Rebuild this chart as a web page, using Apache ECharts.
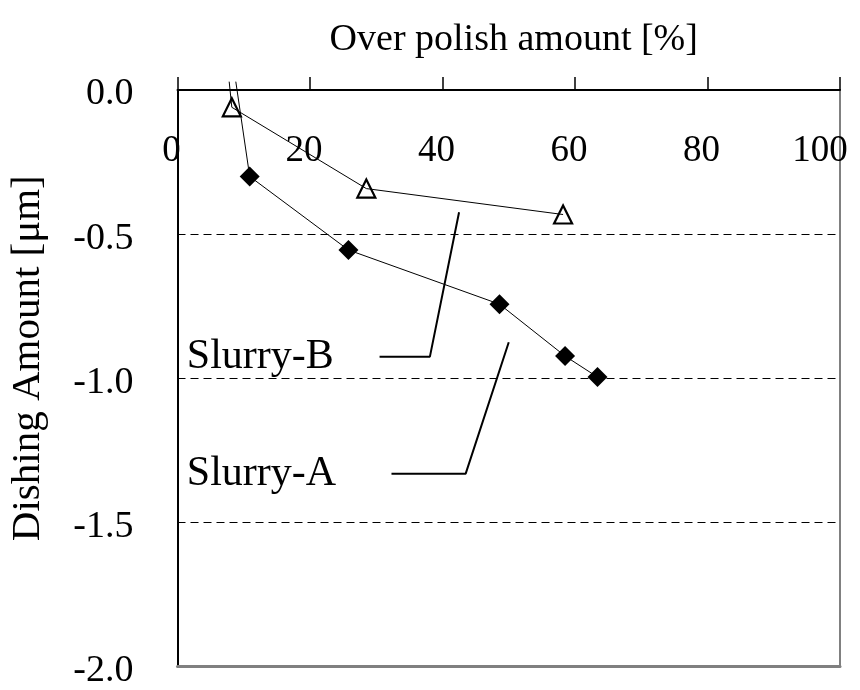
<!DOCTYPE html>
<html>
<head>
<meta charset="utf-8">
<script src="https://cdn.jsdelivr.net/npm/echarts@6/dist/echarts.min.js"></script>
<style>html,body{margin:0;padding:0;background:#fff}#chart{width:860px;height:690px}</style>
</head>
<body>
<div id="chart"></div>
<script>
// Dishing amount versus over-polish amount for two slurries.
// The first point of each curve is where its lead-in segment leaves the frame.
const overPolishA = [8.8, 10.9, 25.8, 48.6, 58.5, 63.4];
const dishingA    = [0.029, -0.30, -0.555, -0.743, -0.923, -0.996];
const overPolishB = [7.8, 8.2, 28.5, 58.2];
const dishingB    = [0.029, -0.06, -0.342, -0.432];

const xTickValues = [0, 20, 40, 60, 80, 100];
const yTickValues = [0, -0.5, -1.0, -1.5, -2.0];

// Callout text anchors and their leader polylines
const seriesNames = ['Slurry-A', 'Slurry-B'];
const calloutTextX = [1.4, 1.4];
const calloutTextY = [-1.331, -0.925];
const leaderAX = [32.3, 43.5, 50.0];
const leaderAY = [-1.331, -1.331, -0.875];
const leaderBX = [30.5, 38.1, 42.5];
const leaderBY = [-0.925, -0.925, -0.424];

const FONT = "'Times New Roman', 'Liberation Serif', serif";

function curve(xs, ys) {
  return xs.map((x, i) => i === 0 ? { value: [x, ys[i]], symbol: 'none' } : [x, ys[i]]);
}
function pairs(xs, ys) { return xs.map((x, i) => [x, ys[i]]); }

const chart = echarts.init(document.getElementById('chart'), null, { renderer: 'canvas' });
chart.setOption({
  animation: false,
  backgroundColor: '#fff',
  grid: { left: 177.5, top: 90, right: 20, bottom: 21, containLabel: false },
  xAxis: [
    {
      type: 'value', position: 'top', min: 0, max: 100, interval: 20,
      name: 'Over polish amount [%]', nameLocation: 'middle', nameGap: 50,
      nameTextStyle: { fontFamily: FONT, fontSize: 38, color: '#000', verticalAlign: 'middle', padding: [0, 0, 0, 10] },
      axisLine: { show: true, onZero: false, lineStyle: { color: '#000', width: 2 } },
      axisTick: { show: true, inside: false, length: 13, lineStyle: { color: '#000', width: 1.5 } },
      axisLabel: {
        inside: true, margin: 61, fontFamily: FONT, fontSize: 37, color: '#000',
        verticalAlign: 'middle', showMinLabel: true, showMaxLabel: true,
        customValues: xTickValues,
        formatter: v => (v === 100 ? '{m|' : '{n|') + v + '}',
        rich: {
          n: { fontFamily: FONT, fontSize: 37, color: '#000', padding: [0, 12, 0, 0] },
          m: { fontFamily: FONT, fontSize: 37, color: '#000', padding: [0, 40, 0, 0] }
        }
      },
      splitLine: { show: false }
    },
    {
      type: 'value', position: 'bottom', min: 0, max: 100,
      axisLine: { show: true, onZero: false, lineStyle: { color: '#808080', width: 3 } },
      axisTick: { show: false }, axisLabel: { show: false }, splitLine: { show: false }
    }
  ],
  yAxis: [
    {
      type: 'value', position: 'left', min: -2, max: 0, interval: 0.5,
      name: 'Dishing Amount [μm]', nameLocation: 'middle', nameGap: 149, nameRotate: 90,
      nameTextStyle: { fontFamily: FONT, fontSize: 41, color: '#000', verticalAlign: 'middle', padding: [0, 0, 0, 40] },
      axisLine: { show: true, onZero: false, lineStyle: { color: '#000', width: 2 } },
      axisTick: { show: false },
      axisLabel: {
        margin: 44, color: '#000', customValues: yTickValues,
        formatter: v => '{v|' + v.toFixed(1) + '}',
        rich: { v: { fontFamily: FONT, fontSize: 38, color: '#000', padding: [9, 0, 0, 0] } }
      },
      splitLine: {
        show: true, showMinLine: false, showMaxLine: false,
        lineStyle: { color: '#000', width: 1, type: [8, 5] }
      }
    },
    {
      type: 'value', position: 'right', min: -2, max: 0,
      axisLine: { show: true, onZero: false, lineStyle: { color: '#808080', width: 2 } },
      axisTick: { show: false }, axisLabel: { show: false }, splitLine: { show: false }
    }
  ],
  series: [
    {
      name: seriesNames[0], type: 'line', clip: false, z: 3,
      data: curve(overPolishA, dishingA),
      symbol: 'diamond', symbolSize: 20,
      itemStyle: { color: '#000' },
      lineStyle: { color: '#000', width: 1 }
    },
    {
      name: seriesNames[1], type: 'line', clip: false, z: 3,
      data: curve(overPolishB, dishingB),
      symbol: 'triangle', symbolSize: 18,
      itemStyle: { color: 'rgba(0,0,0,0)', borderColor: '#000', borderWidth: 2.2 },
      lineStyle: { color: '#000', width: 1 }
    },
    {
      type: 'line', clip: false, symbol: 'none', silent: true,
      data: pairs(leaderAX, leaderAY), lineStyle: { color: '#000', width: 2 }
    },
    {
      type: 'line', clip: false, symbol: 'none', silent: true,
      data: pairs(leaderBX, leaderBY), lineStyle: { color: '#000', width: 2 }
    },
    {
      type: 'scatter', silent: true, symbolSize: 0,
      itemStyle: { color: '#000' },
      data: seriesNames.map((n, i) => ({ name: n, value: [calloutTextX[i], calloutTextY[i]] })),
      label: {
        show: true, position: 'right', distance: 0, formatter: p => p.name,
        fontFamily: FONT, fontSize: 42, color: '#000', opacity: 1
      }
    }
  ]
});
</script>
</body>
</html>
